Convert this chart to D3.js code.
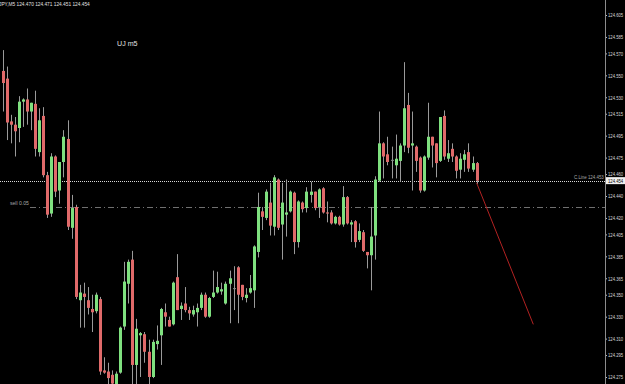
<!DOCTYPE html>
<html>
<head>
<meta charset="utf-8">
<script src="https://cdn.jsdelivr.net/npm/d3@7/dist/d3.min.js"></script>
<style>
  body { margin: 0; background: #000; }
  svg { display: block; }
  text { font-family: "Liberation Sans", sans-serif; }
</style>
</head>
<body>
<svg width="625" height="384"></svg>
<script>
// USDJPY M5 bars, oldest first
var open = [124.554,124.547,124.508,124.505,124.502,124.526,124.528,124.517,124.524,124.480,
            124.513,124.459,124.424,124.476,124.445,124.471,124.492,124.411,124.430,124.345,
            124.351,124.345,124.337,124.335,124.346,124.281,124.280,124.277,124.267,124.279,
            124.321,124.360,124.382,124.286,124.313,124.314,124.298,124.275,124.305,124.313,
            124.334,124.327,124.323,124.366,124.337,124.342,124.336,124.332,124.334,124.338,
            124.350,124.330,124.348,124.352,124.353,124.342,124.360,124.356,124.375,124.359,
            124.347,124.352,124.354,124.389,124.426,124.420,124.434,124.412,124.455,124.414,
            124.423,124.426,124.443,124.398,124.434,124.429,124.441,124.444,124.430,124.447,
            124.425,124.425,124.415,124.421,124.414,124.439,124.414,124.417,124.400,124.407,
            124.389,124.386,124.404,124.454,124.488,124.478,124.473,124.468,124.472,124.486,
            124.523,124.486,124.485,124.475,124.445,124.475,124.494,124.488,124.472,124.513,
            124.474,124.483,124.476,124.464,124.473,124.480,124.464,124.470];
var high = [124.573,124.558,124.514,124.512,124.531,124.529,124.538,124.525,124.536,124.520,
            124.521,124.462,124.479,124.477,124.471,124.500,124.509,124.441,124.432,124.359,
            124.361,124.357,124.350,124.352,124.348,124.293,124.288,124.281,124.280,124.321,
            124.380,124.382,124.390,124.328,124.316,124.316,124.309,124.309,124.322,124.338,
            124.342,124.330,124.362,124.387,124.343,124.357,124.339,124.340,124.342,124.352,
            124.352,124.348,124.372,124.371,124.361,124.362,124.372,124.376,124.376,124.359,
            124.356,124.368,124.395,124.443,124.430,124.446,124.452,124.459,124.456,124.452,
            124.455,124.445,124.444,124.436,124.435,124.448,124.453,124.444,124.447,124.448,
            124.435,124.427,124.422,124.422,124.449,124.440,124.418,124.418,124.415,124.409,
            124.389,124.430,124.458,124.517,124.489,124.494,124.485,124.496,124.488,124.562,
            124.534,124.517,124.486,124.476,124.477,124.525,124.494,124.488,124.512,124.518,
            124.491,124.488,124.477,124.479,124.482,124.488,124.476,124.471];
var low  = [124.517,124.491,124.488,124.476,124.489,124.503,124.505,124.500,124.476,124.476,
            124.457,124.420,124.421,124.439,124.433,124.457,124.409,124.401,124.346,124.320,
            124.320,124.332,124.316,124.333,124.277,124.278,124.268,124.263,124.263,124.278,
            124.318,124.342,124.263,124.263,124.275,124.288,124.263,124.274,124.300,124.286,
            124.321,124.321,124.322,124.336,124.327,124.334,124.327,124.330,124.321,124.336,
            124.329,124.329,124.347,124.351,124.350,124.341,124.324,124.336,124.324,124.345,
            124.343,124.351,124.338,124.384,124.409,124.418,124.404,124.404,124.409,124.382,
            124.403,124.425,124.387,124.393,124.425,124.425,124.434,124.427,124.420,124.424,
            124.416,124.414,124.414,124.413,124.412,124.414,124.398,124.393,124.398,124.389,
            124.374,124.354,124.382,124.453,124.456,124.468,124.456,124.456,124.453,124.480,
            124.479,124.445,124.462,124.443,124.444,124.473,124.466,124.457,124.471,124.473,
            124.471,124.471,124.456,124.456,124.462,124.462,124.462,124.451];
var close = [124.543,124.507,124.505,124.499,124.526,124.528,124.517,124.525,124.483,124.509,
            124.459,124.423,124.476,124.444,124.471,124.494,124.412,124.429,124.348,124.352,
            124.348,124.338,124.334,124.350,124.280,124.279,124.274,124.269,124.278,124.320,
            124.362,124.380,124.286,124.319,124.315,124.298,124.275,124.307,124.308,124.337,
            124.330,124.321,124.361,124.336,124.340,124.336,124.333,124.336,124.338,124.350,
            124.330,124.347,124.352,124.357,124.355,124.360,124.365,124.356,124.350,124.348,
            124.350,124.356,124.394,124.430,124.421,124.444,124.413,124.457,124.411,124.434,
            124.425,124.444,124.398,124.435,124.428,124.444,124.444,124.429,124.446,124.425,
            124.424,124.415,124.421,124.414,124.439,124.415,124.416,124.398,124.408,124.390,
            124.386,124.403,124.455,124.488,124.476,124.471,124.473,124.474,124.486,124.520,
            124.484,124.488,124.472,124.445,124.476,124.494,124.486,124.470,124.512,124.476,
            124.479,124.476,124.463,124.474,124.478,124.465,124.470,124.454];

var priceTicks = [124.605,124.585,124.570,124.550,124.530,124.515,124.495,124.475,124.460,124.440,
                  124.420,124.405,124.385,124.365,124.350,124.330,124.310,124.295,124.275];

var symbolTitle = "JPY,M5  124.470 124.471 124.451 124.454";
var chartLabel = "UJ m5";
var bidPrice = 124.454;
var cLinePrice = 124.453;
var sellOrder = {label: "sell 0.05", price: 124.430};
var trendBars = [117, 131];
var trendPrices = [124.452, 124.323];

var svg = d3.select("svg"),
    width = +svg.attr("width"),
    height = +svg.attr("height"),
    axisX = 605;

var fmt = d3.format(".3f");

var bars = d3.range(open.length).map(function(i) {
  return {i: i, o: open[i], h: high[i], l: low[i], c: close[i]};
});

var x = d3.scaleLinear()
    .domain([0, open.length - 1])
    .range([2.7, 476.6]);

var y = d3.scaleLinear()
    .domain([124.275, 124.605])
    .range([377, 15]);

// squeeze small text horizontally, like the terminal's narrow font
function narrow(sel, sx) {
  sel.each(function() {
    var t = d3.select(this),
        tx = +t.attr("x") || 0,
        ty = +t.attr("y") || 0;
    t.attr("x", 0).attr("y", 0)
     .attr("transform", "translate(" + tx + "," + ty + ") scale(" + sx + ",1)");
  });
}

svg.append("rect")
    .attr("width", width)
    .attr("height", height)
    .attr("fill", "#000");

svg.append("defs").append("clipPath")
    .attr("id", "plot")
  .append("rect")
    .attr("width", axisX)
    .attr("height", height);

var plot = svg.append("g").attr("clip-path", "url(#plot)");

// sell order line
plot.append("line")
    .attr("x1", 30).attr("x2", axisX)
    .attr("y1", Math.round(y(sellOrder.price)) + 0.5)
    .attr("y2", Math.round(y(sellOrder.price)) + 0.5)
    .attr("stroke", "#707070")
    .attr("stroke-dasharray", "6,3,1,3");

// current price line
plot.append("line")
    .attr("x1", 0).attr("x2", axisX)
    .attr("y1", Math.round(y(bidPrice)) + 0.5)
    .attr("y2", Math.round(y(bidPrice)) + 0.5)
    .attr("stroke", "#d8d8d8")
    .attr("stroke-dasharray", "1,1");

var candle = plot.append("g")
  .selectAll("g")
    .data(bars)
  .enter().append("g");

candle.append("line")
    .attr("x1", function(d) { return Math.round(x(d.i)) + 0.5; })
    .attr("x2", function(d) { return Math.round(x(d.i)) + 0.5; })
    .attr("y1", function(d) { return y(d.h); })
    .attr("y2", function(d) { return y(d.l); })
    .attr("stroke", "#9a9a9a");

candle.append("rect")
    .attr("x", function(d) { return Math.round(x(d.i)) - 1; })
    .attr("width", 3)
    .attr("y", function(d) { return y(Math.max(d.o, d.c)); })
    .attr("height", function(d) { return Math.max(1, Math.abs(y(d.o) - y(d.c))); })
    .attr("fill", function(d) {
      if (d.o === d.c) return "#8a8a8a";
      return d.c > d.o ? "#7fe07f" : "#e06a6a";
    });

// trend line
plot.append("line")
    .attr("x1", x(trendBars[0])).attr("y1", y(trendPrices[0]))
    .attr("x2", x(trendBars[1])).attr("y2", y(trendPrices[1]))
    .attr("stroke", "#b22222")
    .attr("stroke-width", 1);

// right price axis
var axis = svg.append("g")
    .attr("transform", "translate(" + axisX + ",0)")
    .call(d3.axisRight(y)
      .tickValues(priceTicks)
      .tickFormat(fmt)
      .tickSize(2)
      .tickPadding(1));

axis.select(".domain").remove();
axis.selectAll("line").attr("stroke", "#bbbbbb");
axis.selectAll("text")
    .attr("fill", "#d8d8d8")
    .style("font-size", "6px")
    .call(narrow, 0.7);

svg.append("line")
    .attr("x1", axisX + 0.5).attr("x2", axisX + 0.5)
    .attr("y1", 0).attr("y2", height)
    .attr("stroke", "#8c8c8c");

// bid label
var bidY = y(bidPrice);
svg.append("rect")
    .attr("x", axisX + 1).attr("y", bidY - 3.5)
    .attr("width", 19).attr("height", 7)
    .attr("fill", "#f0f0f0");
svg.append("text")
    .attr("x", axisX + 3).attr("y", bidY + 2)
    .attr("fill", "#000")
    .style("font-size", "6px")
    .text(fmt(bidPrice))
    .call(narrow, 0.7);

svg.append("text")
    .attr("x", axisX - 31).attr("y", bidY - 1.5)
    .attr("fill", "#a8a8a8")
    .style("font-size", "5.5px")
    .text("C.Line " + fmt(cLinePrice))
    .call(narrow, 0.8);

svg.append("text")
    .attr("x", 10).attr("y", y(sellOrder.price) - 1.5)
    .attr("fill", "#a8a8a8")
    .style("font-size", "6px")
    .text(sellOrder.label)
    .call(narrow, 0.85);

svg.append("text")
    .attr("x", -1).attr("y", 6)
    .attr("fill", "#e0e0e0")
    .style("font-size", "6px")
    .text(symbolTitle)
    .call(narrow, 0.8);

svg.append("text")
    .attr("x", 117).attr("y", 46)
    .attr("fill", "#e0e0e0")
    .style("font-size", "7.5px")
    .text(chartLabel)
    .call(narrow, 0.95);
</script>
</body>
</html>
